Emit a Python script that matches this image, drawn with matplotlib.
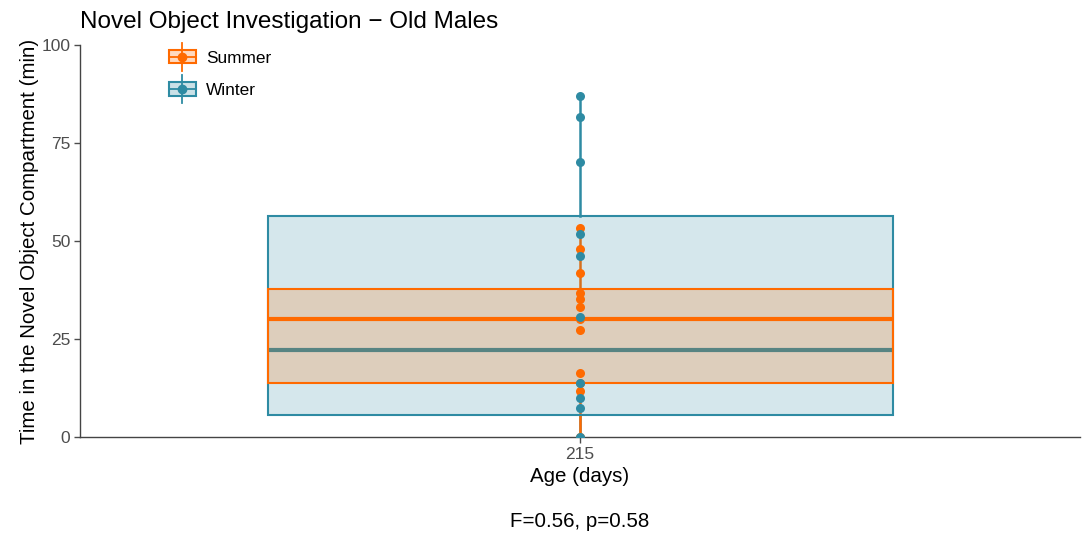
import matplotlib
matplotlib.use("Agg")
import matplotlib.pyplot as plt
from matplotlib.lines import Line2D
from matplotlib.patches import Rectangle
from matplotlib.legend_handler import HandlerBase

plt.rcParams['font.family'] = ['Liberation Sans', 'DejaVu Sans']

# data
ages = ['215']
seasons = ['Winter', 'Summer']
colors = {'Summer': '#FF6A00', 'Winter': '#2E8BA3'}

summer_pts = [53.3, 47.9, 41.8, 36.7, 35.2, 33.1, 30.1, 27.3, 16.4, 13.8, 11.7, 0.0]
winter_pts = [87.0, 81.6, 70.2, 51.8, 46.2, 30.7, 13.7, 9.9, 7.3, 0.0]

# box summaries (lower whisker, q1, median, q3, upper whisker)
summer_box = [0.0, 13.8, 30.1, 37.8, 53.3]
winter_box = [0.0, 5.6, 22.2, 56.4, 87.0]

points = {'Summer': summer_pts, 'Winter': winter_pts}
boxes = {'Summer': summer_box, 'Winter': winter_box}


class BoxHandler(HandlerBase):
    """Draws a small box-plot glyph in the legend."""
    def create_artists(self, legend, orig_handle, xdescent, ydescent,
                       width, height, fontsize, trans):
        c = orig_handle.get_color()
        cx = width / 2 - xdescent
        cy = height / 2 - ydescent
        bh = height * 1.1
        whisk = Line2D([cx, cx], [cy - bh * 1.05, cy + bh * 1.05], color=c, lw=1.3, transform=trans)
        box = Rectangle((-xdescent, cy - bh / 2), width, bh, facecolor=c, alpha=0.25,
                        transform=trans)
        edge = Rectangle((-xdescent, cy - bh / 2), width, bh, facecolor='none',
                         edgecolor=c, lw=1.5, transform=trans)
        mid = Line2D([-xdescent, width - xdescent], [cy, cy], color=c, lw=1.3, transform=trans)
        dot = Line2D([cx], [cy], marker='o', ms=6, color=c, transform=trans)
        return [box, whisk, edge, mid, dot]


fig = plt.figure(figsize=(10.87, 5.34), dpi=100)
ax = fig.add_axes([0.0736, 0.1816, 0.92, 0.734])

half = 0.5
for s in seasons:  # winter first, summer on top
    lo, q1, med, q3, hi = boxes[s]
    c = colors[s]
    ax.plot([0, 0], [lo, q1], color=c, lw=1.8, zorder=2)
    ax.plot([0, 0], [q3, hi], color=c, lw=1.8, zorder=2)
    ax.add_patch(Rectangle((-half, q1), 2 * half, q3 - q1, facecolor=c, alpha=0.2,
                           edgecolor='none', zorder=3))
    ax.add_patch(Rectangle((-half, q1), 2 * half, q3 - q1, facecolor='none',
                           edgecolor=c, lw=1.5, zorder=3))
    ax.plot([-half, half], [med, med], color=c, lw=3, solid_capstyle='butt', zorder=3)

for s in ['Summer', 'Winter']:
    ax.plot([0] * len(points[s]), points[s], 'o', ms=6.5, color=colors[s],
            mec='none', zorder=5)

ax.set_xlim(-0.8, 0.8)
ax.set_ylim(0, 100)
ax.set_xticks([0])
ax.set_xticklabels(ages)
ax.set_yticks([0, 25, 50, 75, 100])
for sp in ['top', 'right']:
    ax.spines[sp].set_visible(False)
for sp in ['left', 'bottom']:
    ax.spines[sp].set_color('#444444')
    ax.spines[sp].set_linewidth(1.0)
ax.tick_params(colors='#4d4d4d', labelsize=12.5, length=4, width=1, pad=3)

ax.set_ylabel('Time in the Novel Object Compartment (min)', fontsize=14.8, labelpad=2)
ax.set_xlabel('Age (days)', fontsize=14.8, labelpad=4)
ax.set_title('Novel Object Investigation \u2212 Old Males', fontsize=17.5, loc='left', x=0.0, pad=12)

fig.text(0.0736 + 0.46, 0.0225, 'F=0.56, p=0.58', ha='center', va='center', fontsize=14.8)

handles = [Line2D([], [], color=colors['Summer'], label='Summer'),
           Line2D([], [], color=colors['Winter'], label='Winter')]
ax.legend(handles=handles, handler_map={Line2D: BoxHandler()}, loc='upper left',
          bbox_to_anchor=(0.073, 1.025), frameon=False, fontsize=12.4,
          handlelength=1.6, handletextpad=0.6, labelspacing=1.0)

fig.savefig('out.png', dpi=100)
